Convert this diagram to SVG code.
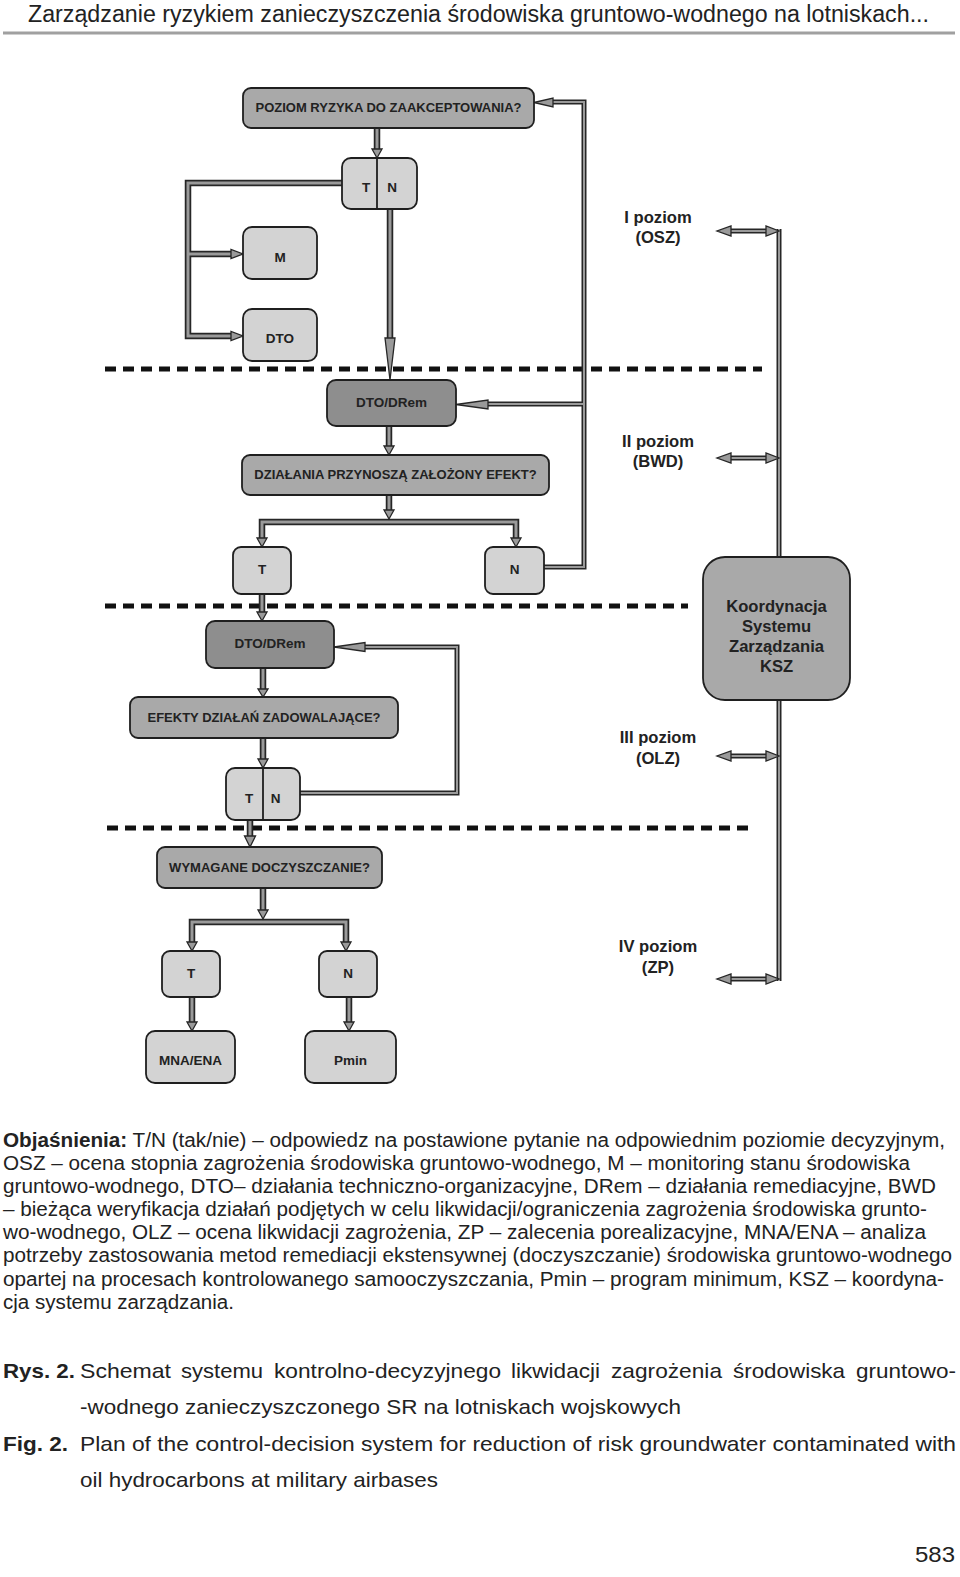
<svg xmlns="http://www.w3.org/2000/svg" width="960" height="1577" viewBox="0 0 960 1577">
<style>
.bg{fill:#fff}
.box{stroke:#1f1f1f;stroke-width:1.8}
.lt{fill:#d3d3d3}.md{fill:#a9a9a9}.dk{fill:#8e8e8e}
.bt{font-family:"Liberation Sans",Arial,sans-serif;font-weight:bold;fill:#222;text-anchor:middle}
.q{font-size:13px}.s13{font-size:13.5px}.lab{font-size:16.6px}
.co{fill:none;stroke:#262626;stroke-width:6.5;stroke-linejoin:miter}
.ci{fill:none;stroke:#9a9a9a;stroke-width:3;stroke-linejoin:miter}
.co2{fill:none;stroke:#262626;stroke-width:5;stroke-linejoin:miter}
.ci2{fill:none;stroke:#9a9a9a;stroke-width:2;stroke-linejoin:miter}
.ah{fill:#9a9a9a;stroke:#262626;stroke-width:1.3;stroke-linejoin:miter}
.dash{fill:none;stroke:#111;stroke-width:5;stroke-dasharray:11 7}
.cap{font-family:"Liberation Sans",Arial,sans-serif;fill:#222}
</style>
<rect class="bg" x="0" y="0" width="960" height="1577"/>

<g id="header">
<text class="cap" x="28" y="22" font-size="23" textLength="901" lengthAdjust="spacingAndGlyphs">Zarządzanie ryzykiem zanieczyszczenia środowiska gruntowo-wodnego na lotniskach...</text>
<line x1="3" y1="33" x2="955" y2="33" stroke="#a0a0a0" stroke-width="3"/>
</g>

<g id="level-lines">
<line class="dash" x1="105" y1="369" x2="762" y2="369"/>
<line class="dash" x1="105" y1="606" x2="688" y2="606"/>
<line class="dash" x1="107" y1="828" x2="750" y2="828"/>
</g>

<g id="connectors">
<path class="co" d="M377,128 V149"/>
<path class="co" d="M342,183 H188 V336 H231 M188,254 H231"/>
<path class="co" d="M390,209 V338"/>
<path class="co" d="M389,426 V446"/>
<path class="co" d="M389,495 V510"/>
<path class="co" d="M262,538 V522 H516 V538"/>
<path class="co2" d="M544,567 H584 V102 H553 M584,404 H488"/>
<path class="co" d="M262,594 V612"/>
<path class="co" d="M263,668 V689"/>
<path class="co" d="M263,738 V759"/>
<path class="co2" d="M300,793 H457 V647 H365"/>
<path class="co" d="M250,820 V836"/>
<path class="co" d="M263,888 V910"/>
<path class="co" d="M192,942 V922 H346 V942"/>
<path class="co" d="M192,997 V1022 M349,997 V1022"/>
<path class="co2" d="M779,229 V557 M779,700 V981"/>
<path class="co2" d="M730,231 H767 M730,458 H767 M730,756 H767 M730,979 H767"/>
<path class="ci" d="M377,128 V149"/>
<path class="ci" d="M342,183 H188 V336 H231 M188,254 H231"/>
<path class="ci" d="M390,209 V338"/>
<path class="ci" d="M389,426 V446"/>
<path class="ci" d="M389,495 V510"/>
<path class="ci" d="M262,538 V522 H516 V538"/>
<path class="ci2" d="M544,567 H584 V102 H553 M584,404 H488"/>
<path class="ci" d="M262,594 V612"/>
<path class="ci" d="M263,668 V689"/>
<path class="ci" d="M263,738 V759"/>
<path class="ci2" d="M300,793 H457 V647 H365"/>
<path class="ci" d="M250,820 V836"/>
<path class="ci" d="M263,888 V910"/>
<path class="ci" d="M192,942 V922 H346 V942"/>
<path class="ci" d="M192,997 V1022 M349,997 V1022"/>
<path class="ci2" d="M779,229 V557 M779,700 V981"/>
<path class="ci2" d="M730,231 H767 M730,458 H767 M730,756 H767 M730,979 H767"/>
<polygon class="ah" points="372,149 382,149 377,158"/>
<polygon class="ah" points="231,249.5 231,258.5 243,254"/>
<polygon class="ah" points="231,331.5 231,340.5 243,336"/>
<polygon class="ah" points="385,338 395,338 390,380"/>
<polygon class="ah" points="384,446 394,446 389,455"/>
<polygon class="ah" points="384,510 394,510 389,519"/>
<polygon class="ah" points="257,538 267,538 262,547"/>
<polygon class="ah" points="511,538 521,538 516,547"/>
<polygon class="ah" points="553,98 553,107 534,102.5"/>
<polygon class="ah" points="488,400 488,409 456,404.5"/>
<polygon class="ah" points="257,612 267,612 262,621"/>
<polygon class="ah" points="258,689 268,689 263,697"/>
<polygon class="ah" points="258,759 268,759 263,768"/>
<polygon class="ah" points="365,642.5 365,651.5 334,647"/>
<polygon class="ah" points="244.5,836 255.5,836 250,847"/>
<polygon class="ah" points="258,910 268,910 263,919"/>
<polygon class="ah" points="187,942 197,942 192,951"/>
<polygon class="ah" points="341,942 351,942 346,951"/>
<polygon class="ah" points="187,1022 197,1022 192,1031"/>
<polygon class="ah" points="344,1022 354,1022 349,1031"/>
<polygon class="ah" points="731,226 731,236 717,231"/>
<polygon class="ah" points="766,226 766,236 779,231"/>
<polygon class="ah" points="731,453 731,463 717,458"/>
<polygon class="ah" points="766,453 766,463 779,458"/>
<polygon class="ah" points="731,751 731,761 717,756"/>
<polygon class="ah" points="766,751 766,761 779,756"/>
<polygon class="ah" points="731,974 731,984 717,979"/>
<polygon class="ah" points="766,974 766,984 779,979"/>
</g>

<g id="n-poziom">
<rect class="box md" x="243" y="88" width="291" height="40" rx="8"/>
<text class="bt q" x="388.5" y="112">POZIOM RYZYKA DO ZAAKCEPTOWANIA?</text>
</g>
<g id="n-tn1">
<rect class="box lt" x="342" y="158" width="75" height="51" rx="9"/>
<line x1="377" y1="158" x2="377" y2="209" stroke="#1f1f1f" stroke-width="1.8"/>
<text class="bt s13" x="366" y="192">T</text>
<text class="bt s13" x="392" y="192">N</text>
</g>
<g id="n-m">
<rect class="box lt" x="243" y="227" width="74" height="52" rx="9"/>
<text class="bt s13" x="280" y="262">M</text>
</g>
<g id="n-dto">
<rect class="box lt" x="243" y="309" width="74" height="52" rx="9"/>
<text class="bt s13" x="280" y="343">DTO</text>
</g>
<g id="n-dtodrem1">
<rect class="box dk" x="327" y="380" width="129" height="46" rx="9"/>
<text class="bt s13" x="391.5" y="407">DTO/DRem</text>
</g>
<g id="n-dzialania">
<rect class="box md" x="242" y="455" width="307" height="40" rx="8"/>
<text class="bt q" x="395.5" y="479">DZIAŁANIA PRZYNOSZĄ ZAŁOŻONY EFEKT?</text>
</g>
<g id="n-t2">
<rect class="box lt" x="233" y="547" width="58" height="47" rx="8"/>
<text class="bt s13" x="262" y="574">T</text>
</g>
<g id="n-n2">
<rect class="box lt" x="485" y="547" width="59" height="47" rx="8"/>
<text class="bt s13" x="514.5" y="574">N</text>
</g>
<g id="n-dtodrem2">
<rect class="box dk" x="206" y="621" width="128" height="47" rx="9"/>
<text class="bt s13" x="270" y="648">DTO/DRem</text>
</g>
<g id="n-efekty">
<rect class="box md" x="130" y="697" width="268" height="41" rx="8"/>
<text class="bt q" x="264" y="722">EFEKTY DZIAŁAŃ ZADOWALAJĄCE?</text>
</g>
<g id="n-tn2">
<rect class="box lt" x="226" y="768" width="74" height="52" rx="9"/>
<line x1="263" y1="768" x2="263" y2="820" stroke="#1f1f1f" stroke-width="1.8"/>
<text class="bt s13" x="249" y="803">T</text>
<text class="bt s13" x="275.5" y="803">N</text>
</g>
<g id="n-wymagane">
<rect class="box md" x="157" y="847" width="225" height="41" rx="8"/>
<text class="bt q" x="269.5" y="872">WYMAGANE DOCZYSZCZANIE?</text>
</g>
<g id="n-t3">
<rect class="box lt" x="162" y="951" width="58" height="46" rx="8"/>
<text class="bt s13" x="191" y="978">T</text>
</g>
<g id="n-n3">
<rect class="box lt" x="319" y="951" width="58" height="46" rx="8"/>
<text class="bt s13" x="348" y="978">N</text>
</g>
<g id="n-mna">
<rect class="box lt" x="146" y="1031" width="89" height="52" rx="9"/>
<text class="bt s13" x="190.5" y="1065">MNA/ENA</text>
</g>
<g id="n-pmin">
<rect class="box lt" x="305" y="1031" width="91" height="52" rx="9"/>
<text class="bt s13" x="350.5" y="1065">Pmin</text>
</g>
<g id="n-ksz">
<rect class="box md" x="703" y="557" width="147" height="143" rx="22"/>
<text class="bt lab" x="776.5" y="612">Koordynacja</text>
<text class="bt lab" x="776.5" y="632">Systemu</text>
<text class="bt lab" x="776.5" y="652">Zarządzania</text>
<text class="bt lab" x="776.5" y="672">KSZ</text>
</g>

<g id="level-labels">
<text class="bt lab" x="658" y="223">I poziom</text>
<text class="bt lab" x="658" y="243">(OSZ)</text>
<text class="bt lab" x="658" y="447">II poziom</text>
<text class="bt lab" x="658" y="467">(BWD)</text>
<text class="bt lab" x="658" y="743">III poziom</text>
<text class="bt lab" x="658" y="764">(OLZ)</text>
<text class="bt lab" x="658" y="952">IV poziom</text>
<text class="bt lab" x="658" y="973">(ZP)</text>
</g>

<g id="legend" class="cap" font-size="20">
<text x="3" y="1147" textLength="942" lengthAdjust="spacingAndGlyphs"><tspan font-weight="bold">Objaśnienia:</tspan> T/N (tak/nie) – odpowiedz na postawione pytanie na odpowiednim poziomie decyzyjnym,</text>
<text x="3" y="1170" textLength="907" lengthAdjust="spacingAndGlyphs">OSZ – ocena stopnia zagrożenia środowiska gruntowo-wodnego, M – monitoring stanu środowiska</text>
<text x="3" y="1193" textLength="933" lengthAdjust="spacingAndGlyphs">gruntowo-wodnego, DTO– działania techniczno-organizacyjne, DRem – działania remediacyjne, BWD</text>
<text x="3" y="1216" textLength="924" lengthAdjust="spacingAndGlyphs">– bieżąca weryfikacja działań podjętych w celu likwidacji/ograniczenia zagrożenia środowiska grunto-</text>
<text x="3" y="1239" textLength="923" lengthAdjust="spacingAndGlyphs">wo-wodnego, OLZ – ocena likwidacji zagrożenia, ZP – zalecenia porealizacyjne, MNA/ENA – analiza</text>
<text x="3" y="1262" textLength="949" lengthAdjust="spacingAndGlyphs">potrzeby zastosowania metod remediacji ekstensywnej (doczyszczanie) środowiska gruntowo-wodnego</text>
<text x="3" y="1286" textLength="941" lengthAdjust="spacingAndGlyphs">opartej na procesach kontrolowanego samooczyszczania, Pmin – program minimum, KSZ – koordyna-</text>
<text x="3" y="1309" textLength="231" lengthAdjust="spacingAndGlyphs">cja systemu zarządzania.</text>
</g>

<g id="caption" class="cap" font-size="21">
<text x="3" y="1378" font-weight="bold" textLength="72" lengthAdjust="spacingAndGlyphs">Rys. 2.</text>
<text x="80" y="1378" textLength="91" lengthAdjust="spacingAndGlyphs">Schemat</text>
<text x="181" y="1378" textLength="82" lengthAdjust="spacingAndGlyphs">systemu</text>
<text x="274" y="1378" textLength="227" lengthAdjust="spacingAndGlyphs">kontrolno-decyzyjnego</text>
<text x="511" y="1378" textLength="89" lengthAdjust="spacingAndGlyphs">likwidacji</text>
<text x="611" y="1378" textLength="111" lengthAdjust="spacingAndGlyphs">zagrożenia</text>
<text x="733" y="1378" textLength="112" lengthAdjust="spacingAndGlyphs">środowiska</text>
<text x="856" y="1378" textLength="100" lengthAdjust="spacingAndGlyphs">gruntowo-</text>
<text x="80" y="1414" textLength="601" lengthAdjust="spacingAndGlyphs">-wodnego zanieczyszczonego SR na lotniskach wojskowych</text>
<text x="3" y="1451" font-weight="bold" textLength="65" lengthAdjust="spacingAndGlyphs">Fig. 2.</text>
<text x="80" y="1451" textLength="876" lengthAdjust="spacingAndGlyphs">Plan of the control-decision system for reduction of risk groundwater contaminated with</text>
<text x="80" y="1487" textLength="358" lengthAdjust="spacingAndGlyphs">oil hydrocarbons at military airbases</text>
</g>

<g id="page-number">
<text class="cap" x="915" y="1562" font-size="22" textLength="40" lengthAdjust="spacingAndGlyphs">583</text>
</g>
</svg>
